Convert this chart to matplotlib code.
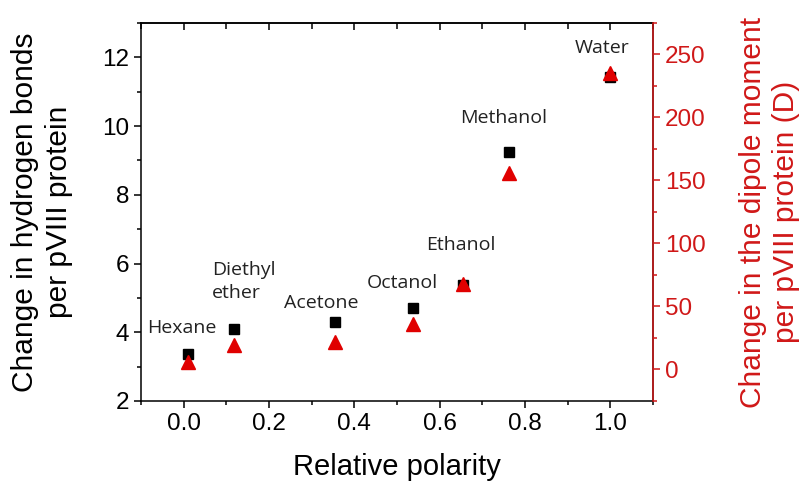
import matplotlib.pyplot as plt
from matplotlib.ticker import MultipleLocator

# Solvents and relative polarity
solvents = ['Hexane', 'Diethyl\nether', 'Acetone', 'Octanol', 'Ethanol', 'Methanol', 'Water']
polarity = [0.009, 0.117, 0.355, 0.537, 0.654, 0.762, 1.000]

# Change in hydrogen bonds (left axis) and dipole moment (right axis)
hbonds = [3.36, 4.09, 4.30, 4.71, 5.38, 9.25, 11.42]
dipole = [6.0, 19.5, 21.5, 36.0, 68.0, 156.0, 235.0]

# Label anchor positions (data coords on left axis)
label_x = [-0.005, 0.066, 0.323, 0.513, 0.649, 0.749, 0.981]
label_y = [4.12, 5.47, 4.85, 5.43, 6.53, 10.23, 12.26]
label_ha = ['center', 'left', 'center', 'center', 'center', 'center', 'center']

red = '#e00000'
dark_red = '#d01818'

plt.rcParams['font.family'] = ['Liberation Sans', 'DejaVu Sans']

fig = plt.figure(figsize=(8.04, 4.83), dpi=100)
ax = fig.add_axes([0.1754, 0.1698, 0.6368, 0.7826])
ax2 = ax.twinx()

ax.plot(polarity, hbonds, 's', color='black', markersize=7, zorder=3)
ax2.plot(polarity, dipole, '^', color=red, markersize=9.5, zorder=4)

for name, x, y, ha in zip(solvents, label_x, label_y, label_ha):
    ax.text(x, y, name, ha=ha, va='center', fontsize=14, color='#222222',
            family='Open Sans', linespacing=1.35)

ax.set_xlim(-0.1, 1.1)
ax.set_ylim(2, 13)
ax2.set_ylim(-25, 275)

ax.xaxis.set_major_locator(MultipleLocator(0.2))
ax.xaxis.set_minor_locator(MultipleLocator(0.1))
ax.yaxis.set_major_locator(MultipleLocator(2))
ax.yaxis.set_minor_locator(MultipleLocator(1))
ax2.yaxis.set_minor_locator(MultipleLocator(25))
ax2.set_yticks([0, 50, 100, 150, 200, 250])

ax.tick_params(axis='both', which='major', direction='out', length=5, width=1.1,
               labelsize=17.5)
ax.tick_params(axis='both', which='minor', direction='out', length=3, width=1.1)
ax2.tick_params(axis='y', which='major', direction='out', length=5, width=1.1,
                labelsize=17.5, colors=dark_red)
ax2.tick_params(axis='y', which='minor', direction='out', length=3, width=1.1,
                colors=dark_red)

# top ticks point inward
top = ax.secondary_xaxis('top')
top.xaxis.set_major_locator(MultipleLocator(0.2))
top.xaxis.set_minor_locator(MultipleLocator(0.1))
top.tick_params(which='major', direction='in', length=5, width=1.1, labeltop=False)
top.tick_params(which='minor', direction='in', length=4, width=1.1)
top.spines['top'].set_linewidth(1.1)

for s in ax.spines.values():
    s.set_linewidth(1.1)
for side in ['left', 'top', 'bottom']:
    ax2.spines[side].set_visible(False)
ax2.spines['right'].set_color(dark_red)
ax2.spines['right'].set_linewidth(1.1)

ax.set_xlabel('Relative polarity', fontsize=21, labelpad=13)
ax.set_ylabel('Change in hydrogen bonds\nper pVIII protein', fontsize=21.5,
              labelpad=21, linespacing=1.25)
ax2.set_ylabel('Change in the dipole moment\nper pVIII protein (D)', fontsize=21.5,
               color=dark_red, labelpad=24, linespacing=1.25)

fig.savefig('out.png', dpi=100)
